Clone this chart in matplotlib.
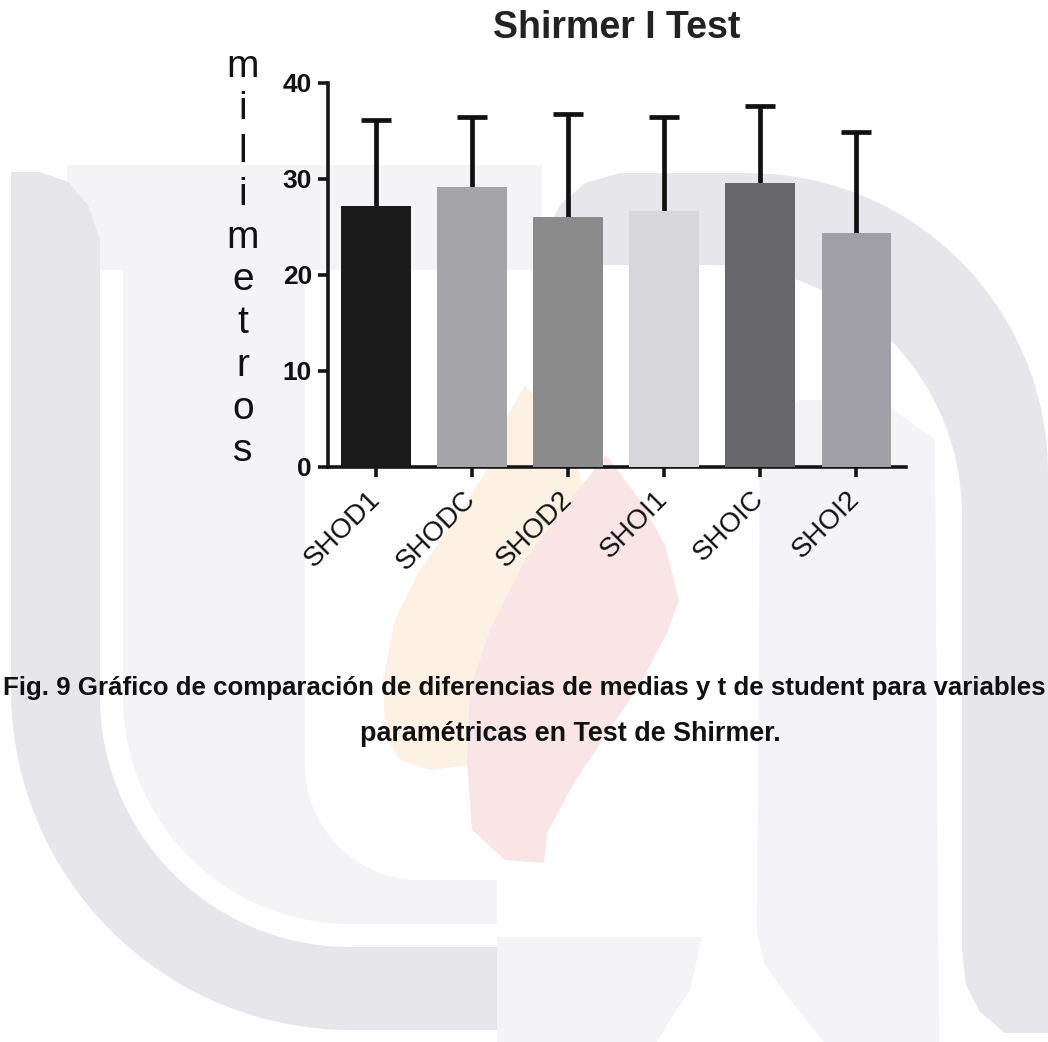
import numpy as np
import matplotlib.pyplot as plt
from matplotlib.patches import Polygon

plt.rcParams['font.family'] = ['Liberation Sans', 'DejaVu Sans']

# Shirmer I: medias y desviacion (mm)
grupos = ['SHOD1', 'SHODC', 'SHOD2', 'SHOI1', 'SHOIC', 'SHOI2']
medias = [27.2, 29.2, 26.0, 26.7, 29.6, 24.4]
desv = [8.9, 7.3, 10.8, 9.8, 8.0, 10.5]
colores = ['#1b1b1b', '#a4a4a9', '#8b8b8b', '#d7d7d9', '#67676a', '#a1a0a6']

W, H = 1048, 1042
fig = plt.figure(figsize=(W / 100, H / 100), dpi=100)

# marca de agua de fondo, coordenadas en pixeles (y hacia abajo)
bg = fig.add_axes([0, 0, 1, 1], zorder=0)
bg.set_xlim(0, W)
bg.set_ylim(H, 0)
bg.axis('off')


def arco(cx, cy, r, a0, a1, n=40):
    t = np.radians(np.linspace(a0, a1, n))
    return list(zip(cx + r * np.cos(t), cy + r * np.sin(t)))


gris = '#e6e6eb'
claro = '#f4f4f7'
formas = [
    ([(67, 165), (542, 165), (542, 270), (67, 270)], claro),
    ([(123, 270)] + arco(350, 697, 227, 180, 90) + [(497, 924), (497, 880), (420, 880)]
     + arco(420, 765, 115, 90, 180) + [(305, 270)], claro),
    ([(40, 172), (11, 172)] + arco(351, 690, 340, 180, 90) + [(497, 1030), (497, 947)]
     + arco(350, 697, 250, 90, 180) + [(100, 240), (88, 205), (68, 182)], gris),
    ([(542, 265), (546, 232), (560, 205), (585, 183), (620, 173)] + arco(748, 473, 300, -90, 0)
     + [(1048, 1033), (1005, 1033), (980, 1012), (966, 985), (962, 950)]
     + arco(712, 515, 250, 0, -90), gris),
    ([(760, 420), (800, 400), (880, 400), (935, 440), (939, 1042), (824, 1042),
      (790, 1000), (765, 965), (757, 933)], claro),
    ([(497, 937), (702, 937), (690, 990), (670, 1020), (657, 1042), (497, 1042)], claro),
    ([(525, 385), (555, 420), (575, 455), (583, 490), (580, 530), (565, 570), (540, 610),
      (500, 690), (470, 765), (430, 770), (400, 760), (385, 735), (383, 680), (395, 620),
      (420, 570), (455, 520), (490, 465), (505, 420)], '#fdf1e3'),
    ([(606, 455), (640, 500), (665, 545), (679, 600), (667, 633), (641, 683), (607, 733),
      (574, 783), (547, 833), (544, 863), (505, 860), (472, 830), (467, 760), (470, 690),
      (490, 630), (525, 560), (570, 500)], '#f9e5e6'),
]
for pts, c in formas:
    bg.add_patch(Polygon(pts, closed=True, facecolor=c, edgecolor='none'))

# grafico de barras
ax = fig.add_axes([328 / W, (H - 467) / H, (906 - 328) / W, (467 - 83) / H], zorder=1)
ax.patch.set_alpha(0)
x = np.arange(len(grupos))
ax.bar(x, medias, width=0.72, color=colores, edgecolor='none', zorder=3)
eb = ax.errorbar(x, medias, yerr=[np.zeros(len(desv)), desv], fmt='none', ecolor='#111111',
                 elinewidth=3.4, capsize=10.8, capthick=3.4, zorder=2)
# solo la barra de error superior
eb[1][0].set_visible(False)

ax.set_xlim(-0.5, 5.52)
ax.set_ylim(0, 40)
ax.set_yticks([0, 10, 20, 30, 40])
ax.set_xticks(x)
ax.set_xticklabels(grupos, rotation=45, ha='right', va='center', rotation_mode='anchor',
                   fontsize=20, color='#111111')
for lab in ax.get_yticklabels():
    lab.set_fontweight('bold')
    lab.set_fontsize(19)
    lab.set_color('#111111')
for s in ['top', 'right']:
    ax.spines[s].set_visible(False)
for s in ['left', 'bottom']:
    ax.spines[s].set_linewidth(2.6)
    ax.spines[s].set_color('#151515')
ax.tick_params(axis='both', direction='out', length=7.5, width=2.6, color='#151515')
ax.tick_params(axis='y', pad=4)
ax.tick_params(axis='x', pad=13)

fig.text(617 / W, 1 - 28 / H, 'Shirmer I Test', ha='center', va='center',
         fontsize=27, fontweight='bold', color='#222222')
fig.text(243 / W, 1 - 259 / H, '\n'.join('milimetros'), ha='center', va='center',
         fontsize=28, linespacing=1.24, color='#111111')

fig.text(3 / W, 1 - 695 / H,
         'Fig. 9 Gráfico de comparación de diferencias de medias y t de student para variables',
         ha='left', va='baseline', fontsize=18.6, fontweight='bold', color='#111111')
fig.text(570 / W, 1 - 741 / H, 'paramétricas en Test de Shirmer.', ha='center',
         va='baseline', fontsize=19.4, fontweight='bold', color='#111111')

fig.savefig('out.png', dpi=100, facecolor='white')
